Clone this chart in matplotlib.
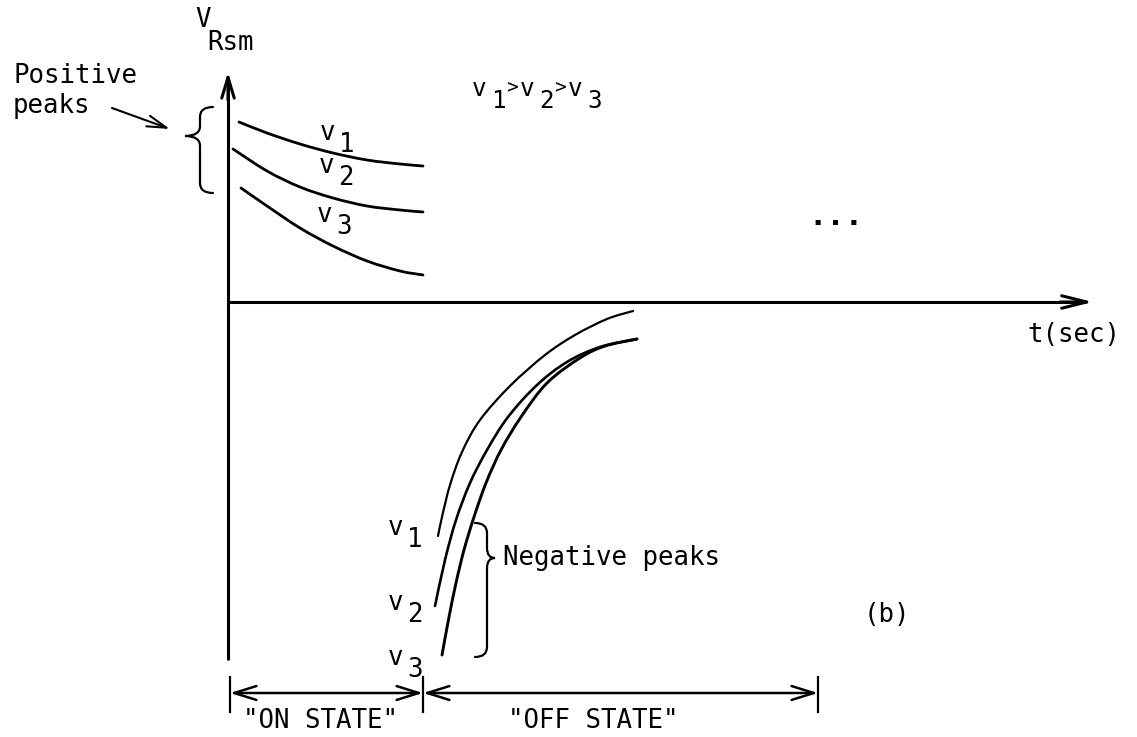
"""Peak recovery voltage sketch: V_Rsm against time for three speeds v1 > v2 > v3."""

import matplotlib
matplotlib.use("Agg")
import matplotlib.pyplot as plt
import numpy as np
from matplotlib.path import Path
from matplotlib.patches import PathPatch

plt.rcParams.update({"font.family": "DejaVu Sans Mono", "font.size": 18.5})

INK = "black"
W, H = 1137, 737

# curve traces, in sheet units (x to the right, y downwards)
pos_v1_x = [239, 267, 300, 333, 367, 400, 423]
pos_v1_y = [122, 133, 144, 153, 160, 164, 166]
pos_v2_x = [233, 267, 300, 333, 367, 400, 423]
pos_v2_y = [149, 171, 187, 198, 206, 210, 212]
pos_v3_x = [241, 267, 300, 333, 367, 400, 423]
pos_v3_y = [188, 206, 228, 246, 261, 271, 275]

neg_v1_x = [438, 442, 450, 462, 480, 510, 545, 575, 607, 633]
neg_v1_y = [536, 517, 485, 452, 420, 386, 355, 335, 319, 311]
neg_v2_x = [435, 445, 456, 470, 487, 508, 537, 567, 600, 637]
neg_v2_y = [606, 560, 520, 483, 450, 417, 385, 362, 347, 339]
neg_v3_x = [442, 449, 456, 464, 474, 486, 501, 521, 547, 580, 605, 637]
neg_v3_y = [655, 617, 583, 550, 517, 483, 450, 417, 383, 358, 346, 339]

speeds = ["1", "2", "3"]

fig = plt.figure(figsize=(W / 100, H / 100), dpi=100)
ax = fig.add_axes([0, 0, 1, 1])
ax.set_xlim(0, W)
ax.set_ylim(H, 0)
ax.axis("off")


def curve(xs, ys, lw):
    # pass a smooth pen stroke through the traced points (Catmull-Rom as Bezier)
    p = np.column_stack([xs, ys]).astype(float)
    n = len(p)
    verts, codes = [p[0]], [Path.MOVETO]
    for i in range(n - 1):
        p0 = p[max(i - 1, 0)]
        p1, p2 = p[i], p[i + 1]
        p3 = p[min(i + 2, n - 1)]
        verts += [p1 + (p2 - p0) / 6, p2 - (p3 - p1) / 6, p2]
        codes += [Path.CURVE4] * 3
    ax.add_patch(PathPatch(Path(verts, codes), fill=False, lw=lw,
                           edgecolor=INK, capstyle="round"))


def arrow(x0, y0, x1, y1, style="->", lw=2.2, hl=16, hw=4.5):
    ax.annotate("", xy=(x1, y1), xytext=(x0, y0),
                arrowprops=dict(arrowstyle=f"{style},head_length={hl},head_width={hw}",
                                mutation_scale=1, color=INK, lw=lw,
                                shrinkA=0, shrinkB=0))


def vlabel(x, y, sub, fs=18.5):
    # lowercase v with its index dropped below the baseline
    ax.text(x, y, "v", fontsize=fs, ha="left", va="baseline", color=INK)
    ax.text(x + 19, y + 12, sub, fontsize=fs, ha="left", va="baseline", color=INK)


def brace(xs, xe, xt, y0, y1, yt, lw=1.6):
    # curly bracket: spine at xs, ends bend to xe, point at xt
    d = 10
    verts = [(xe, y0), (xs, y0), (xs, y0 + d),
             (xs, yt - d),
             (xs, yt), (xt, yt),
             (xs, yt), (xs, yt + d),
             (xs, y1 - d),
             (xs, y1), (xe, y1)]
    codes = [Path.MOVETO, Path.CURVE3, Path.CURVE3,
             Path.LINETO,
             Path.CURVE3, Path.CURVE3,
             Path.CURVE3, Path.CURVE3,
             Path.LINETO,
             Path.CURVE3, Path.CURVE3]
    ax.add_patch(PathPatch(Path(verts, codes), fill=False, lw=lw,
                           edgecolor=INK, capstyle="round"))


# axes
ax.plot([228, 228], [660, 80], color=INK, lw=2.2, solid_capstyle="butt")
arrow(228, 100, 228, 72, hl=15, hw=4.5)
ax.plot([228, 1080], [302, 302], color=INK, lw=2.2, solid_capstyle="butt")
arrow(1060, 302, 1093, 302, hl=18, hw=4.5)

ax.text(195, 27, "V", ha="left", va="baseline")
ax.text(207, 50, "Rsm", ha="left", va="baseline")
ax.text(1027, 342, "t(sec)", ha="left", va="baseline")

# positive peaks during the on state
for xs, ys in [(pos_v1_x, pos_v1_y), (pos_v2_x, pos_v2_y), (pos_v3_x, pos_v3_y)]:
    curve(xs, ys, 2.0)

vlabel(320, 140, speeds[0])
vlabel(319, 173, speeds[1])
vlabel(317, 222, speeds[2])

ax.text(13, 83, "Positive", ha="left", va="baseline")
ax.text(13, 113, "peaks", ha="left", va="baseline")
arrow(112, 108, 170, 129, lw=1.5, hl=14, hw=4)
brace(200, 213, 185, 107, 193, 136)

# v1 > v2 > v3
x0 = 472
for i, s in enumerate(speeds):
    vlabel(x0 + 48 * i, 96, s, fs=17.5)
    if i < 2:
        ax.text(x0 + 48 * i + 34, 93, ">", fontsize=14, ha="left", va="baseline")

ax.text(836, 225, "...", fontsize=22, ha="center", va="baseline",
        fontweight="bold")

# negative peaks after switching off
for xs, ys, lw in [(neg_v1_x, neg_v1_y, 1.6), (neg_v2_x, neg_v2_y, 1.9),
                   (neg_v3_x, neg_v3_y, 2.1)]:
    curve(xs, ys, lw)

vlabel(388, 535, speeds[0])
vlabel(388, 610, speeds[1])
vlabel(388, 665, speeds[2])

brace(487, 475, 495, 523, 657, 558)
ax.text(503, 558, "Negative peaks", ha="left", va="center")

ax.text(887, 615, "(b)", ha="center", va="center")

# on / off state spans
for xt in (230, 423, 818):
    ax.plot([xt, xt], [677, 712], color=INK, lw=1.6)
arrow(423, 693, 230, 693, style="<->", lw=1.8, hl=16, hw=5)
arrow(423, 693, 818, 693, style="<->", lw=1.8, hl=16, hw=5)
ax.text(243, 728, '"ON STATE"', ha="left", va="baseline")
ax.text(593, 728, '"OFF STATE"', ha="center", va="baseline")

fig.savefig("out.png", dpi=100, facecolor="white")
